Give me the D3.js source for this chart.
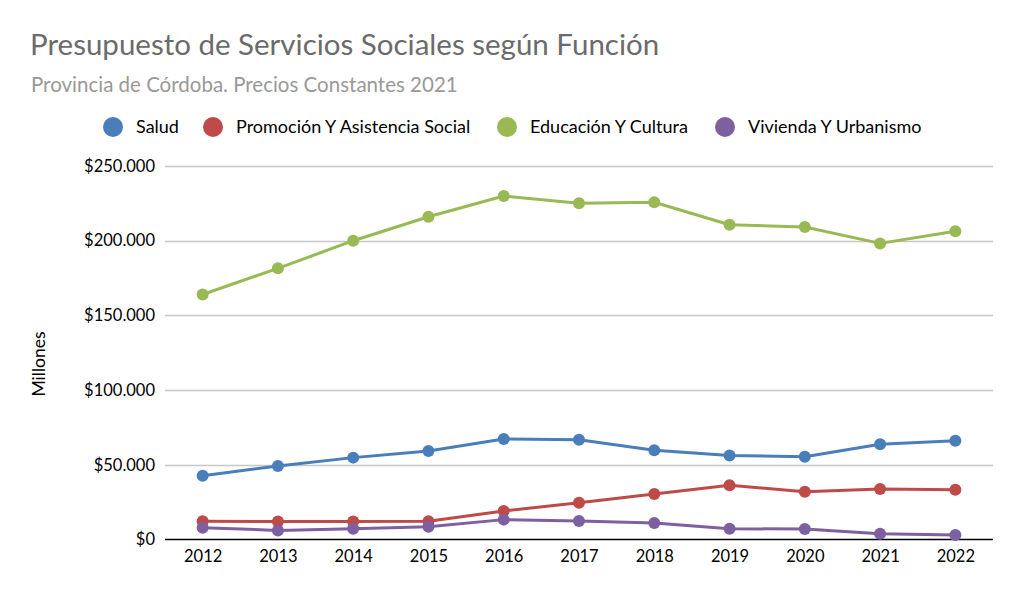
<!DOCTYPE html>
<html><head><meta charset="utf-8">
<script src="https://cdn.jsdelivr.net/npm/d3@7"></script>
<style>body{margin:0;background:#fff}svg{display:block}text{font-family:Lato,"Open Sans",sans-serif}</style>
</head><body><svg id="c" width="1024" height="599"></svg>
<script>
const years = ["2012","2013","2014","2015","2016","2017","2018","2019","2020","2021","2022"];
const seriesNames = ["Salud","Promoción Y Asistencia Social","Educación Y Cultura","Vivienda Y Urbanismo"];
const salud = [42700,49200,54800,59200,67300,66800,59700,56300,55400,63700,66100];
const promocion = [12200,12100,12100,12200,19100,24600,30500,36300,32000,33800,33300];
const educacion = [164000,181500,200000,216000,229900,225000,225700,210700,209200,198200,206300];
const vivienda = [7900,6100,7200,8600,13300,12400,11000,7200,7000,3900,3000];
const yTicks = [0,50000,100000,150000,200000,250000];
const colors = ["#4a7ebb","#be4b48","#98b954","#7d60a0"];
const allSeries = [salud,promocion,educacion,vivienda];

const svg = d3.select("#c");
const x = d3.scalePoint().domain(years).range([165,993]).padding(0.5);
const y = d3.scaleLinear().domain([0,250000]).range([539.5,166]);
const fmt = v => "$" + d3.format(",")(v).replace(/,/g,".");

svg.append("text").attr("x",30).attr("y",55).attr("font-size",29.5).attr("fill","#6b6b6b").text("Presupuesto de Servicios Sociales según Función");
svg.append("text").attr("x",31).attr("y",92).attr("font-size",20.5).attr("fill","#999999").text("Provincia de Córdoba. Precios Constantes 2021");

// gridlines
svg.append("g").selectAll("line").data(yTicks.filter(d=>d>0)).join("line")
  .attr("x1",165).attr("x2",993).attr("y1",d=>Math.round(y(d))+0.5).attr("y2",d=>Math.round(y(d))+0.5)
  .attr("stroke","#c8c8c8").attr("stroke-width",1.3);

const yAxis = svg.append("g").attr("transform","translate(165,0)")
  .call(d3.axisLeft(y).tickValues(yTicks).tickFormat(fmt).tickSize(0).tickPadding(10));
yAxis.select(".domain").remove();
yAxis.selectAll("text").attr("font-size",16.5).attr("fill","#000").style("font-family","Lato,'Open Sans',sans-serif");

const xAxis = svg.append("g").attr("transform","translate(0,539.5)")
  .call(d3.axisBottom(x).tickSize(0).tickPadding(11));
xAxis.select(".domain").attr("stroke","#000").attr("stroke-width",1.3).attr("d","M165,0H993");
xAxis.selectAll("text").attr("font-size",16.5).attr("fill","#000").style("font-family","Lato,'Open Sans',sans-serif");

svg.append("text").attr("transform","translate(45,364) rotate(-90)").attr("text-anchor","middle")
  .attr("font-size",17.5).attr("fill","#000").text("Millones");

const line = d3.line().x((d,i)=>x(years[i])).y(d=>y(d));
allSeries.forEach((s,k)=>{
  const g = svg.append("g");
  g.append("path").datum(s).attr("d",line).attr("fill","none").attr("stroke",colors[k]).attr("stroke-width",3).attr("stroke-linejoin","round");
  g.selectAll("circle").data(s).join("circle").attr("cx",(d,i)=>x(years[i])).attr("cy",d=>y(d)).attr("r",6).attr("fill",colors[k]);
});

// legend
const legX = [113,213,507,725];
const leg = svg.append("g");
seriesNames.forEach((n,k)=>{
  leg.append("circle").attr("cx",legX[k]).attr("cy",127).attr("r",10).attr("fill",colors[k]);
  leg.append("text").attr("x",legX[k]+23).attr("y",133).attr("font-size",18).attr("fill","#000").text(n);
});
</script></body></html>
